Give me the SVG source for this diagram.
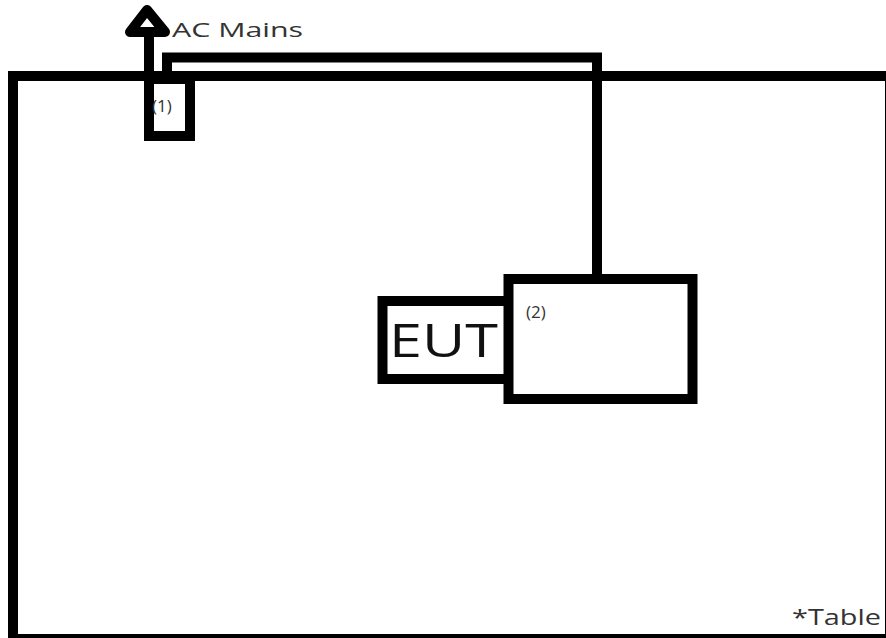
<svg xmlns="http://www.w3.org/2000/svg" width="886" height="638" viewBox="0 0 886 638">
<style>
.ln{fill:none;stroke:#000;stroke-width:10;stroke-linejoin:miter}
.bx{fill:#fff;stroke:#000;stroke-width:10}
.t{font-family:"Open Sans","Liberation Sans",sans-serif;fill:#333}
</style>
<rect width="886" height="638" fill="#fff"/>
<g id="table">
<rect x="13" y="76" width="877" height="563" fill="#fff" stroke="#000" stroke-width="10"/>
<text class="t" x="792" y="625" font-size="21" textLength="89" lengthAdjust="spacingAndGlyphs">*Table</text>
</g>
<g id="connectors">
<path class="ln" d="M167,76 V57.5 H597 V279"/>
<path class="ln" d="M149,76 V34" stroke-width="11"/>
<polygon points="147,10 130,32 165,32" fill="#fff" stroke="#000" stroke-width="10" stroke-linejoin="round"/>
</g>
<g id="ac-mains">
<text class="t" x="172" y="37" font-size="20" textLength="131" lengthAdjust="spacingAndGlyphs">AC Mains</text>
</g>
<g id="node1">
<rect class="bx" x="149" y="79" width="41" height="57" stroke-width="11"/>
<text class="t" x="152" y="112" font-size="17">(1)</text>
</g>
<g id="eut">
<rect class="bx" x="382.5" y="301" width="130" height="78"/>
<text x="389" y="357" font-size="45" fill="#111" font-family="'Open Sans','Liberation Sans',sans-serif" textLength="109" lengthAdjust="spacingAndGlyphs">EUT</text>
</g>
<g id="node2">
<rect class="bx" x="508.5" y="279" width="184" height="120"/>
<text class="t" x="526" y="318" font-size="17">(2)</text>
</g>
</svg>
